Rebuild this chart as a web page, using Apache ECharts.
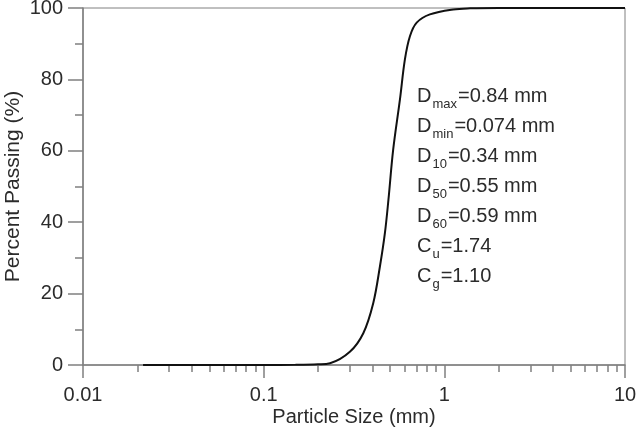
<!DOCTYPE html>
<html>
<head>
<meta charset="utf-8">
<script src="https://cdn.jsdelivr.net/npm/echarts@6/dist/echarts.min.js"></script>
<style>
html,body{margin:0;padding:0;background:#fff;}
#chart{width:644px;height:432px;}
</style>
</head>
<body>
<div id="chart"></div>
<script>
// Particle size (mm) and percent passing
const sizes   = [0.0215, 0.05, 0.1, 0.15, 0.2, 0.233, 0.3, 0.356, 0.404, 0.44, 0.469, 0.4905, 0.521, 0.568, 0.605, 0.645, 0.703, 0.832, 1.12, 1.39, 2, 5, 10];
const passing = [0, 0, 0, 0.05, 0.2, 0.5, 3.7, 8.9, 17.3, 27.6, 37, 46.3, 60.3, 74.4, 85.6, 92.1, 95.9, 98.2, 99.6, 99.9, 100, 100, 100];
// minor tick values on the log x axis
const minorTickValues = [0.02,0.03,0.04,0.05,0.06,0.07,0.08,0.09,0.2,0.3,0.4,0.5,0.6,0.7,0.8,0.9,2,3,4,5,6,7,8,9];
// annotation lines: [main, subscript, rest]
const annotations = [
  ['D', 'max', '=0.84 mm'],
  ['D', 'min', '=0.074 mm'],
  ['D', '10', '=0.34 mm'],
  ['D', '50', '=0.55 mm'],
  ['D', '60', '=0.59 mm'],
  ['C', 'u', '=1.74'],
  ['C', 'g', '=1.10']
];
const xTitle = 'Particle Size (mm)';
const yTitle = 'Percent Passing (%)';

const FONT = '"Liberation Sans", Arial, Helvetica, sans-serif';
const AXIS = '#808080';
const TEXT = '#2b2b2b';

const chart = echarts.init(document.getElementById('chart'), null, {renderer: 'canvas'});
const annText = annotations.map(a => '{m|' + a[0] + '}{s|' + a[1] + '}{m|' + a[2] + '}').join('\n');

chart.setOption({
  animation: false,
  backgroundColor: '#fff',
  grid: {left: 83, right: 19, top: 8, bottom: 67, show: true, borderColor: AXIS, borderWidth: 1,
         containLabel: false, outerBoundsMode: 'none'},
  xAxis: [{
    type: 'log', logBase: 10, min: 0.01, max: 10,
    name: xTitle, nameLocation: 'middle', nameGap: 42, nameMoveOverlap: false,
    nameTextStyle: {fontFamily: FONT, fontSize: 20, color: TEXT},
    axisLine: {show: true, onZero: false, lineStyle: {color: AXIS, width: 1.5}},
    axisTick: {show: true, inside: false, length: 13, lineStyle: {color: AXIS, width: 1.5}},
    axisLabel: {fontFamily: FONT, fontSize: 20, color: TEXT, margin: 20,
      formatter: v => String(+v.toPrecision(6))},
    splitLine: {show: false}, minorTick: {show: false}
  }, {
    type: 'value', min: -2, max: 1, position: 'bottom', gridIndex: 0,
    axisLine: {show: false, onZero: false},
    axisTick: {show: true, inside: false, length: 7, lineStyle: {color: AXIS, width: 1.5},
      customValues: minorTickValues.map(v => Math.log10(v))},
    axisLabel: {show: false}, splitLine: {show: false}
  }],
  yAxis: {
    type: 'value', min: 0, max: 100, interval: 20,
    name: yTitle, nameLocation: 'middle', nameGap: 59, nameRotate: 90, nameMoveOverlap: false,
    nameTextStyle: {fontFamily: FONT, fontSize: 21, color: TEXT},
    axisLine: {show: true, onZero: false, lineStyle: {color: AXIS, width: 1.5}},
    axisTick: {show: true, inside: false, length: 15, lineStyle: {color: AXIS, width: 1.5}},
    minorTick: {show: true, splitNumber: 2, length: 8, lineStyle: {color: AXIS, width: 1.5}},
    axisLabel: {fontFamily: FONT, fontSize: 20, color: TEXT, margin: 20},
    splitLine: {show: false}
  },
  series: [{
    type: 'line',
    xAxisIndex: 0,
    data: sizes.map((s, i) => [s, passing[i]]),
    showSymbol: false,
    smooth: 0.35,
    lineStyle: {color: '#111', width: 2}
  }],
  graphic: [{
    type: 'text', left: 417, top: 86,
    style: {
      text: annText,
      fill: TEXT,
      rich: {
        m: {fontFamily: FONT, fontSize: 20, fill: TEXT, lineHeight: 30},
        s: {fontFamily: FONT, fontSize: 13, fill: TEXT, lineHeight: 30, verticalAlign: 'bottom', padding: [0, 1, 0, 1]}
      }
    }
  }]
});
</script>
</body>
</html>
